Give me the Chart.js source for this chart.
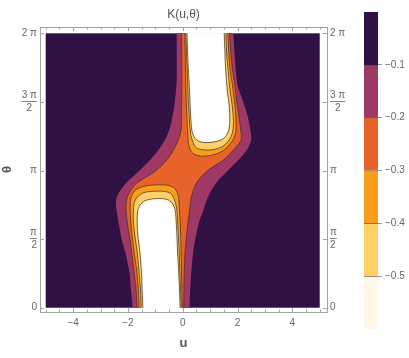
<!DOCTYPE html>
<html>
<head>
<meta charset="utf-8">
<script src="https://cdn.jsdelivr.net/npm/chart.js@4.4.1/dist/chart.umd.min.js"></script>
<style>
  html, body { margin: 0; padding: 0; background: #fff; }
  #wrap { position: relative; width: 409px; height: 358px; }
  #plot { position: absolute; left: 0; top: 0; }
  #bar { position: absolute; left: 355px; top: 0; }
</style>
</head>
<body>
<div id="wrap">
  <canvas id="plot" width="355" height="358"></canvas>
  <canvas id="bar" width="54" height="358"></canvas>
</div>
<script>
// plot range (u, theta) and frame padding
const uRange = [-5, 5];
const thetaRange = [0, 2 * Math.PI];
const xLimits = [-5.208, 5.266];
const yLimits = [-0.098, 6.428];

// frame ticks
const xTicks = [-5, -4.5, -4, -3.5, -3, -2.5, -2, -1.5, -1, -0.5, 0, 0.5, 1, 1.5, 2, 2.5, 3, 3.5, 4, 4.5, 5];
const xLabelTicks = [-4, -2, 0, 2, 4];
const xLabelText = ['\u22124', '\u22122', '0', '2', '4'];
const yTicks = [0, Math.PI / 2, Math.PI, 3 * Math.PI / 2, 2 * Math.PI];
const yLabelsLeft = ['0', ['\u03c0', '2'], '\u03c0', ['3 \u03c0', '2\u2002'], '2 \u03c0'];
const yLabelsRight = ['0', ['\u03c0', '2'], '\u03c0', ['3 \u03c0', '\u20022'], '2 \u03c0'];

// colour bands (top of legend down) and contour levels
const levels = [0, -0.1, -0.2, -0.3, -0.4, -0.5, -0.6];
const bandColors = ['#2f1144', '#9e3966', '#e86329', '#f99d1c', '#fed067', '#fff8e8'];
const legendTicks = [-0.5, -0.4, -0.3, -0.2, -0.1];
const legendLabels = ['\u22120.5', '\u22120.4', '\u22120.3', '\u22120.2', '\u22120.1'];

// contour K = -0.1 (one S-shaped region, left side up then right side down)
const contour1 = [[-1.83,-0.3],[-1.83,0],[-1.89,0.41],[-1.94,0.79],[-2.07,1.21],[-2.22,1.55],[-2.34,1.94],[-2.43,2.31],[-2.42,2.50],[-2.24,2.72],[-1.93,2.94],[-1.56,3.15],[-1.19,3.38],[-0.89,3.61],[-0.65,3.84],[-0.49,4.07],[-0.40,4.30],[-0.33,4.53],[-0.28,4.76],[-0.22,5.21],[-0.22,6.29],[-0.22,6.6],
  [1.85,6.6],[1.85,6.29],[1.91,5.67],[2.00,5.10],[2.18,4.76],[2.36,4.41],[2.47,4.07],[2.50,3.84],[2.34,3.61],[2.03,3.38],[1.66,3.15],[1.30,2.92],[1.06,2.70],[0.88,2.47],[0.76,2.24],[0.62,2.01],[0.42,1.44],[0.32,0.86],[0.27,0.40],[0.25,0],[0.25,-0.3]];

// contour K = -0.2
const contour2 = [[-1.67,-0.3],[-1.67,0],[-1.70,0.41],[-1.77,0.79],[-1.85,1.21],[-1.92,1.55],[-2.02,1.94],[-2.07,2.31],[-2.03,2.52],[-1.88,2.70],[-1.68,2.85],[-1.31,3.00],[-0.95,3.15],[-0.58,3.38],[-0.34,3.61],[-0.16,3.84],[-0.06,4.07],[-0.04,4.30],[-0.04,4.57],[-0.03,5.00],[-0.04,6.29],[-0.04,6.6],
  [1.71,6.6],[1.71,6.29],[1.75,5.90],[1.81,5.49],[1.90,5.10],[1.97,4.73],[2.06,4.34],[2.12,4.05],[2.13,3.84],[1.85,3.61],[1.48,3.38],[0.93,3.15],[0.57,2.92],[0.39,2.70],[0.29,2.45],[0.25,2.22],[0.20,1.99],[0.14,1.66],[0.08,1.21],[0.05,0.63],[0.04,0],[0.04,-0.3]];

// lower tongue
const contour3Low = [[-1.58,-0.1],[-1.62,0.41],[-1.68,0.86],[-1.76,1.21],[-1.83,1.55],[-1.89,1.94],[-1.92,2.28],[-1.89,2.51],[-1.76,2.67],[-1.56,2.75],[-1.34,2.79],[-1.05,2.81],[-0.61,2.81],[-0.32,2.75],[-0.17,2.58],[-0.12,2.26],[-0.08,1.78],[-0.05,1.09],[-0.03,0.41],[-0.01,-0.1]];
const contour4Low = [[-1.51,-0.1],[-1.54,0.41],[-1.60,0.86],[-1.67,1.32],[-1.74,1.62],[-1.80,1.96],[-1.80,2.19],[-1.77,2.40],[-1.66,2.53],[-1.45,2.63],[-1.19,2.66],[-0.90,2.67],[-0.65,2.66],[-0.44,2.62],[-0.32,2.50],[-0.23,2.31],[-0.19,2.01],[-0.14,1.44],[-0.10,0.75],[-0.07,0.29],[-0.05,-0.1]];
const contour5Low = [[-1.45,-0.1],[-1.48,0.41],[-1.51,0.86],[-1.57,1.32],[-1.64,1.66],[-1.66,1.96],[-1.65,2.19],[-1.56,2.35],[-1.38,2.45],[-1.12,2.49],[-0.83,2.50],[-0.57,2.48],[-0.39,2.40],[-0.28,2.24],[-0.23,1.89],[-0.19,1.32],[-0.14,0.75],[-0.11,0.29],[-0.09,-0.1]];
const coreLow = [[-1.40,-0.1],[-1.43,0.41],[-1.46,0.86],[-1.52,1.32],[-1.58,1.66],[-1.61,1.96],[-1.60,2.17],[-1.50,2.31],[-1.34,2.39],[-1.12,2.42],[-0.83,2.43],[-0.61,2.41],[-0.45,2.35],[-0.35,2.21],[-0.30,1.89],[-0.25,1.32],[-0.19,0.75],[-0.15,0.29],[-0.13,-0.1]];

// upper tongue
const contour3High = [[1.64,6.38],[1.68,5.87],[1.74,5.42],[1.82,5.07],[1.89,4.73],[1.94,4.34],[1.94,4.05],[1.85,3.86],[1.66,3.70],[1.40,3.57],[1.11,3.50],[0.67,3.47],[0.38,3.53],[0.23,3.70],[0.18,4.02],[0.14,4.50],[0.11,5.19],[0.09,5.87],[0.07,6.38]];
const contour4High = [[1.57,6.38],[1.60,5.87],[1.66,5.42],[1.73,4.96],[1.80,4.66],[1.85,4.32],[1.84,4.09],[1.77,3.92],[1.62,3.78],[1.45,3.69],[1.25,3.64],[0.96,3.61],[0.71,3.62],[0.50,3.66],[0.38,3.78],[0.29,3.97],[0.25,4.27],[0.20,4.84],[0.16,5.53],[0.13,5.99],[0.11,6.38]];
const contour5High = [[1.51,6.38],[1.54,5.87],[1.57,5.42],[1.63,4.96],[1.70,4.62],[1.72,4.32],[1.70,4.11],[1.60,3.95],[1.43,3.85],[1.18,3.80],[0.89,3.78],[0.63,3.80],[0.45,3.88],[0.34,4.04],[0.29,4.39],[0.25,4.96],[0.20,5.53],[0.17,5.99],[0.15,6.38]];
const coreHigh = [[1.46,6.38],[1.49,5.87],[1.52,5.42],[1.58,4.96],[1.64,4.62],[1.67,4.32],[1.65,4.12],[1.55,3.98],[1.40,3.90],[1.18,3.86],[0.89,3.85],[0.67,3.87],[0.51,3.93],[0.41,4.07],[0.36,4.39],[0.31,4.96],[0.25,5.53],[0.21,5.99],[0.19,6.38]];

const frameColor = '#a3a3a3';
const textColor = '#666';
const lineColor = 'rgba(70, 50, 40, 0.75)';
const tickFont = { family: "'Liberation Sans', Arial, sans-serif", size: 10, lineHeight: 1.3 };

Chart.defaults.font.family = "'Liberation Sans', Arial, sans-serif";
Chart.defaults.color = textColor;

const toPoints = (arr) => arr.map(([u, t]) => ({ x: u, y: t }));

function region(arr, color, order, withLine) {
    return {
        data: toPoints(arr),
        backgroundColor: color,
        borderColor: withLine ? lineColor : 'rgba(0,0,0,0)',
        borderWidth: withLine ? 1 : 0,
        fill: 'shape',
        tension: 0.3,
        pointRadius: 0,
        order: order
    };
}

// dark background + clip to the data rectangle
const plotClip = {
    id: 'plotClip',
    beforeDatasetsDraw(chart) {
        const { ctx, scales: { x, y } } = chart;
        const l = x.getPixelForValue(uRange[0]), r = x.getPixelForValue(uRange[1]);
        const t = y.getPixelForValue(thetaRange[1]), b = y.getPixelForValue(thetaRange[0]);
        ctx.save();
        ctx.fillStyle = bandColors[0];
        ctx.fillRect(l, t, r - l, b - t);
        ctx.beginPath();
        ctx.rect(l, t, r - l, b - t);
        ctx.clip();
    },
    afterDatasetsDraw(chart) {
        chart.ctx.restore();
    }
};

// inward frame ticks and fraction bars of the pi labels
const frameTicks = {
    id: 'frameTicks',
    afterDraw(chart) {
        const { ctx, chartArea: a, scales: { x, y } } = chart;
        ctx.save();
        ctx.strokeStyle = frameColor;
        ctx.lineWidth = 1;
        ctx.beginPath();
        xTicks.forEach(v => {
            const px = Math.round(x.getPixelForValue(v)) + 0.5;
            const len = xLabelTicks.includes(v) ? 4 : 2.5;
            ctx.moveTo(px, a.bottom); ctx.lineTo(px, a.bottom - len);
            ctx.moveTo(px, a.top); ctx.lineTo(px, a.top + len);
        });
        yTicks.forEach(v => {
            const py = Math.round(y.getPixelForValue(v)) + 0.5;
            ctx.moveTo(a.left, py); ctx.lineTo(a.left + 4, py);
            ctx.moveTo(a.right, py); ctx.lineTo(a.right - 4, py);
        });
        ctx.stroke();

        ctx.strokeStyle = textColor;
        ctx.lineWidth = 0.8;
        ctx.font = '10px ' + tickFont.family;
        ctx.beginPath();
        yTicks.forEach((v, i) => {
            if (!Array.isArray(yLabelsLeft[i])) return;
            const py = Math.round(y.getPixelForValue(v)) - 0.5;
            const w = ctx.measureText(yLabelsLeft[i][0]).width;
            ctx.moveTo(a.left - 3 - w, py); ctx.lineTo(a.left - 3, py);
            ctx.moveTo(a.right + 3, py); ctx.lineTo(a.right + 3 + w, py);
        });
        ctx.stroke();
        ctx.restore();
    }
};

const axisBase = {
    type: 'linear',
    grid: { display: true, drawOnChartArea: false, drawTicks: false },
    border: { display: true, color: frameColor, width: 1 }
};

new Chart(document.getElementById('plot'), {
    type: 'line',
    data: {
        datasets: [
            region(contour1, bandColors[1], 9, false),
            region(contour2, bandColors[2], 8, true),
            region(contour3Low, bandColors[3], 7, true),
            region(contour3High, bandColors[3], 7, true),
            region(contour4Low, bandColors[4], 6, true),
            region(contour4High, bandColors[4], 6, true),
            region(contour5Low, bandColors[5], 5, true),
            region(contour5High, bandColors[5], 5, true),
            region(coreLow, '#ffffff', 4, false),
            region(coreHigh, '#ffffff', 4, false)
        ]
    },
    options: {
        responsive: false,
        animation: false,
        events: [],
        layout: { padding: 0 },
        plugins: {
            legend: { display: false },
            tooltip: { enabled: false },
            title: {
                display: true,
                text: 'K(u,\u03b8)',
                fullSize: false,
                color: '#555',
                font: { size: 12, weight: 'normal', lineHeight: 1.2 },
                padding: { top: 7, bottom: 0 }
            }
        },
        scales: {
            x: {
                ...axisBase,
                position: 'bottom',
                min: xLimits[0], max: xLimits[1],
                afterBuildTicks: (s) => { s.ticks = xTicks.map(v => ({ value: v })); },
                afterFit: (s) => { s.height = 46; },
                ticks: {
                    autoSkip: false, maxRotation: 0, padding: 5, color: textColor, font: tickFont,
                    callback: (v) => {
                        const k = xLabelTicks.indexOf(v);
                        return k < 0 ? '' : xLabelText[k];
                    }
                },
                title: { display: true, text: 'u', color: '#555', font: { size: 13, weight: 'bold', lineHeight: 1 }, padding: { top: 0, bottom: 8.5 } }
            },
            x2: {
                ...axisBase,
                position: 'top',
                min: xLimits[0], max: xLimits[1],
                afterFit: (s) => { s.height = 5.6; },
                ticks: { display: false }
            },
            y: {
                ...axisBase,
                position: 'left',
                min: yLimits[0], max: yLimits[1],
                afterBuildTicks: (s) => { s.ticks = yTicks.map(v => ({ value: v })); },
                afterFit: (s) => { s.width = 40; },
                ticks: { autoSkip: false, padding: 3, color: textColor, font: tickFont, callback: (v, i) => yLabelsLeft[i] },
                title: { display: true, text: '\u03b8', color: '#555', font: { size: 13, weight: 'bold', lineHeight: 1 }, padding: { top: 0.5, bottom: 0 } }
            },
            y2: {
                ...axisBase,
                position: 'right',
                min: yLimits[0], max: yLimits[1],
                afterBuildTicks: (s) => { s.ticks = yTicks.map(v => ({ value: v })); },
                afterFit: (s) => { s.width = 28; },
                ticks: { autoSkip: false, padding: 3, color: textColor, font: tickFont, callback: (v, i) => yLabelsRight[i] }
            }
        }
    },
    plugins: [plotClip, frameTicks]
});

// colour legend: one floating bar per band
new Chart(document.getElementById('bar'), {
    type: 'bar',
    data: {
        labels: [''],
        datasets: bandColors.map((c, i) => ({
            data: [[levels[i + 1], levels[i]]],
            backgroundColor: c,
            borderColor: lineColor,
            borderWidth: i >= 2 ? { top: 1, right: 0, bottom: 0, left: 0 } : 0,
            borderSkipped: false,
            grouped: false,
            barPercentage: 1,
            categoryPercentage: 1
        }))
    },
    options: {
        responsive: false,
        animation: false,
        events: [],
        layout: { padding: { left: 9, top: 12, bottom: 29, right: 0 } },
        plugins: { legend: { display: false }, tooltip: { enabled: false } },
        scales: {
            x: { display: false },
            y: {
                position: 'right',
                min: levels[levels.length - 1], max: levels[0],
                afterBuildTicks: (s) => { s.ticks = legendTicks.map(v => ({ value: v })); },
                afterFit: (s) => { s.width = 31; },
                grid: { drawOnChartArea: false, drawTicks: true, tickLength: 4, color: '#999' },
                border: { display: false },
                ticks: { autoSkip: false, padding: 3, color: textColor, font: tickFont, callback: (v, i) => legendLabels[i] }
            }
        }
    }
});
</script>
</body>
</html>
